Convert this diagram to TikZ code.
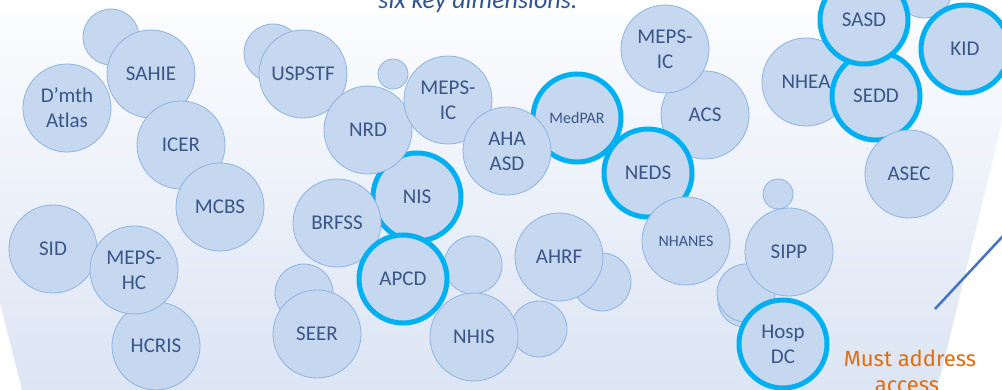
\documentclass[tikz,border=0pt]{standalone}
\usepackage{fontspec}
\setmainfont{Carlito}
\newfontfamily\notefont{Fira Sans}
\definecolor{bubfill}{HTML}{C6D8EF}
\definecolor{bubline}{HTML}{8DB3E2}
\definecolor{ringc}{HTML}{00B0F0}
\definecolor{txt}{HTML}{3A5688}
\definecolor{bgbot}{HTML}{DCE5F4}
\definecolor{bgtop}{HTML}{FBFCFE}
\definecolor{titlec}{HTML}{2F5597}
\definecolor{notec}{HTML}{E46C0A}
\definecolor{pointerc}{HTML}{4472C4}
\begin{document}
\begin{tikzpicture}[x=1pt,y=-1pt,
  bub/.style={circle, draw=bubline, fill=bubfill, line width=0.8pt, inner sep=0pt, outer sep=0pt, minimum size=88pt},
  smallbub/.style={bub, minimum size=#1},
  hi/.style={draw=ringc, line width=5pt},
  lbl/.style={text=txt, font=\fontsize{21}{25}\selectfont, align=center, inner sep=0pt},
  lblsm/.style={lbl, font=\fontsize{16}{19}\selectfont}]
\useasboundingbox (0,0) rectangle (1002,390);
\clip (0,0) rectangle (1002,390);
\fill[white] (0,0) rectangle (1002,390);
% background band
\shade[top color=bgtop, bottom color=bgbot] (-73,15) -- (1028,15) -- (937,390) -- (22,390) -- cycle;
% title (cut off at top)
\node[anchor=base, text=titlec, font=\fontsize{26}{30}\selectfont\itshape, inner sep=0pt] (title) at (478,9) {six key dimensions.};
% unlabeled bubbles
\node[smallbub=56pt] (u1) at (111,37) {};
\node[smallbub=58pt] (u2) at (273,53) {};
\node[smallbub=30pt] (u3) at (393,74) {};
\node[smallbub=56pt] (u4) at (924,-10) {};
\node[smallbub=58pt] (u5) at (602,282) {};
\node[smallbub=58pt] (u6) at (473,265) {};
\node[smallbub=56pt] (u7) at (539,329) {};
\node[smallbub=58pt] (u8) at (304,293) {};
\node[smallbub=54pt] (u10) at (745,300) {};
\node[smallbub=58pt] (u9) at (746,293) {};
\node[smallbub=30pt] (u11) at (778,194) {};
% labeled bubbles
\node[bub] (dmth) at (67,108) {};
\node[bub] (sahie) at (151,74) {};
\node[bub] (icer) at (181,145) {};
\node[bub] (mcbs) at (220,207) {};
\node[bub] (sid) at (53,249) {};
\node[bub] (hcris) at (156,346) {};
\node[bub] (mepshc) at (134,270) {};
\node[bub] (uspstf) at (303,74) {};
\node[bub,hi] (nis) at (417,197) {};
\node[bub] (nrd) at (368,130) {};
\node[bub] (mepsic1) at (448,100) {};
\node[bub] (brfss) at (337,223) {};
\node[bub,hi] (apcd) at (403,279) {};
\node[bub] (seer) at (317,334) {};
\node[bub] (nhis) at (474,337) {};
\node[bub,hi] (medpar) at (577,118) {};
\node[bub] (ahaasd) at (507,151) {};
\node[bub] (acs) at (705,115) {};
\node[bub] (mepsic2) at (665,49) {};
\node[bub,hi] (neds) at (648,173) {};
\node[bub] (nhanes) at (686,241) {};
\node[bub] (ahrf) at (559,257) {};
\node[bub] (sipp) at (789,252) {};
\node[bub,hi] (hospdc) at (783,344) {};
\node[bub] (nhea) at (806,82) {};
\node[bub,hi] (sedd) at (876,96) {};
\node[bub,hi] (sasd) at (864,20) {};
\node[bub,hi] (kid) at (965,49) {};
\node[bub] (asec) at (909,174) {};
% labels
\node[lbl] (tdmth) at (dmth) {D’mth\\Atlas};
\node[lbl] (tsahie) at (sahie) {SAHIE};
\node[lbl] (ticer) at (icer) {ICER};
\node[lbl] (tmcbs) at (mcbs) {MCBS};
\node[lbl] (tsid) at (sid) {SID};
\node[lbl] (thcris) at (hcris) {HCRIS};
\node[lbl] (tmepshc) at (mepshc) {MEPS-\\HC};
\node[lbl] (tuspstf) at (uspstf) {USPSTF};
\node[lbl] (tnis) at (nis) {NIS};
\node[lbl] (tnrd) at (nrd) {NRD};
\node[lbl] (tmepsic1) at (mepsic1) {MEPS-\\IC};
\node[lbl] (tbrfss) at (brfss) {BRFSS};
\node[lbl] (tapcd) at (apcd) {APCD};
\node[lbl] (tseer) at (seer) {SEER};
\node[lbl] (tnhis) at (nhis) {NHIS};
\node[lblsm] (tmedpar) at (medpar) {MedPAR};
\node[lbl] (tahaasd) at (ahaasd) {AHA\\ASD};
\node[lbl] (tacs) at (acs) {ACS};
\node[lbl] (tmepsic2) at (mepsic2) {MEPS-\\IC};
\node[lbl] (tneds) at (neds) {NEDS};
\node[lblsm] (tnhanes) at (nhanes) {NHANES};
\node[lbl] (tahrf) at (ahrf) {AHRF};
\node[lbl] (tsipp) at (sipp) {SIPP};
\node[lbl] (thospdc) at (hospdc) {Hosp\\DC};
\node[lbl] (tnhea) at (nhea) {NHEA};
\node[lbl] (tsedd) at (sedd) {SEDD};
\node[lbl] (tsasd) at (sasd) {SASD};
\node[lbl] (tkid) at (kid) {KID};
\node[lbl] (tasec) at (asec) {ASEC};
% pointer line
\coordinate (pa) at (935,309);
\coordinate (pb) at (1030,207);
\draw[pointerc, line width=2.5pt] (pa) -- (pb);
% note
\node[anchor=base, text=notec, font=\notefont\fontsize{22}{26}\selectfont, inner sep=0pt] (must1) at (910,366) {Must address};
\node[anchor=base, text=notec, font=\notefont\fontsize{22}{26}\selectfont, inner sep=0pt] (must2) at (907,392) {access};
\end{tikzpicture}
\end{document}
